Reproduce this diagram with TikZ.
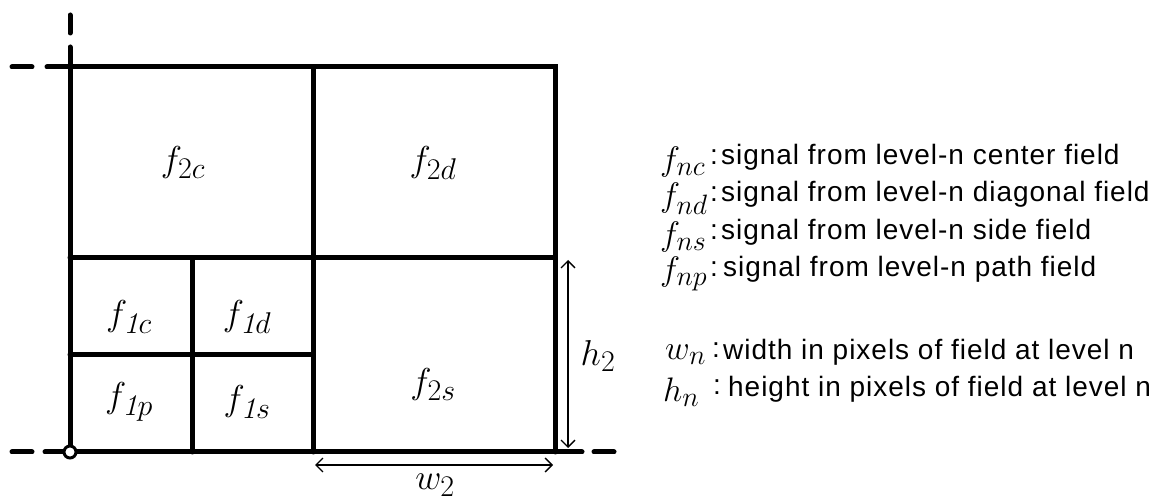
\RequirePackage{fix-cm}
\documentclass[tikz,border=0pt]{standalone}
\usepackage{fontspec}
\newfontfamily\legendfont[LetterSpace=3.5]{Liberation Sans}
\usetikzlibrary{arrows.meta}
\newcommand\bigsub[1]{{\mbox{\fontsize{30}{30}\selectfont$#1$}}}
\newcommand\legsub[1]{{\mbox{\fontsize{28}{28}\selectfont$#1$}}}
\tikzset{
  wall/.style={line width=5pt, line cap=round},
  dashpart/.style={line width=5pt, line cap=round},
  dim/.style={line width=1.3pt, {Straight Barb[length=7pt,width=14pt]}-{Straight Barb[length=7pt,width=14pt]}},
  field/.style={font=\fontsize{36}{42}\selectfont},
  sym/.style={anchor=west, font=\fontsize{34}{40}\selectfont, inner sep=0pt},
  colon/.style={anchor=west, font=\fontsize{28}{32}\legendfont, inner sep=0pt},
  desc/.style={anchor=west, font=\fontsize{28}{32}\legendfont, inner sep=0pt},
}
\begin{document}
\begin{tikzpicture}[x=1pt,y=-1pt]
\useasboundingbox (0,0) rectangle (1165,502);
% grid
\coordinate (O) at (70,452);
\draw[wall] (70,47) -- (O);
\draw[wall] (47,67) -- (555,67) -- (555,452);
\draw[wall] (45,452) -- (582,452);
\draw[wall] (313,67) -- (313,452);
\draw[wall] (70,258) -- (555,258);
\draw[wall] (192,258) -- (192,452);
\draw[wall] (70,355) -- (313,355);
% dashes
\draw[dashpart] (70,15) -- (70,33);
\draw[dashpart] (12,67) -- (32,67);
\draw[dashpart] (12,452) -- (32,452);
\draw[dashpart] (594,452) -- (614,452);
\node[circle, draw, line width=3pt, fill=white, minimum size=12pt, inner sep=0pt] (orig) at (O) {};
% field labels
\node[field] (f2c) at (183,163) {$f_\bigsub{2c}$};
\node[field] (f2d) at (433,163) {$f_\bigsub{2d}$};
\node[field] (f2s) at (433,385) {$f_\bigsub{2s}$};
\node[field] (f1c) at (129,317) {$f_\bigsub{\mathit{1}c}$};
\node[field] (f1d) at (247,317) {$f_\bigsub{\mathit{1}d}$};
\node[field] (f1p) at (129,402) {$f_\bigsub{\mathit{1}p}$};
\node[field] (f1s) at (247,402) {$f_\bigsub{\mathit{1}s}$};
% dimensions
\coordinate (wl) at (315,465);
\coordinate (wr) at (553,465);
\draw[dim] (wl) -- (wr);
\node[field] (w2) at (435,485) {$w_\bigsub{2}$};
\coordinate (ht) at (568,260);
\coordinate (hb) at (568,448);
\draw[dim] (ht) -- (hb);
\node[field] (h2) at (598,356) {$h_\bigsub{2}$};
% legend
\node[sym] (lc) at (660,162) {$f_\legsub{nc}$};
\node[sym] (ld) at (660,199) {$f_\legsub{nd}$};
\node[sym] (ls) at (660,237) {$f_\legsub{ns}$};
\node[sym] (lp) at (660,274) {$f_\legsub{np}$};
\node[sym] (lw) at (665,355) {$w_\legsub{n}$};
\node[sym] (lh) at (663,392) {$h_\legsub{n}$};
\node[colon] at (710,157) {:};
\node[colon] at (710,194) {:};
\node[colon] at (710,232) {:};
\node[colon] at (710,269) {:};
\node[colon] at (712,350) {:};
\node[colon] at (713,387) {:};
\node[desc] at (721,157) {signal from level-n center field};
\node[desc] at (721,194) {signal from level-n diagonal field};
\node[desc] at (721,232) {signal from level-n side field};
\node[desc] at (723,269) {signal from level-n path field};
\node[desc] at (723,352) {width in pixels of field at level n};
\node[desc] at (728,389) {height in pixels of field at level n};
\end{tikzpicture}
\end{document}
